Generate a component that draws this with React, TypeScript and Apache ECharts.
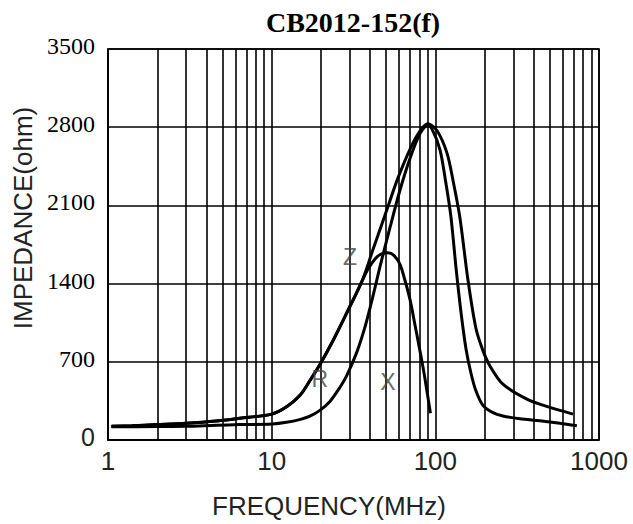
import React, { useEffect, useRef } from 'react';
import * as echarts from 'echarts';

const chartTitle = 'CB2012-152(f)';
const xName = 'FREQUENCY(MHz)';
const yName = 'IMPEDANCE(ohm)';
const yInterval = 700;
const yMax = 3500;
const minorGridFreqs = [2, 3, 4, 5, 6, 7, 8, 9, 20, 30, 40, 50, 60, 70, 80, 90, 200, 300, 400, 500, 600, 700, 800, 900];

// Z curve (MHz, ohm)
const zFreq = [1.05, 1.4, 2, 3, 4.6, 6.4, 10, 12.4, 14.9, 17.1, 19.8, 23.9, 28.6, 35.6, 41.5, 50.8, 58.9, 70.9, 81.5, 90, 102.3, 117.7, 128, 141.3, 158, 177, 195.4, 215.6, 258.8, 362.5, 501, 693];
const zImp = [124, 128, 138, 150, 170, 194, 232, 300, 400, 530, 680, 900, 1130, 1420, 1700, 2070, 2340, 2620, 2775, 2830, 2770, 2570, 2330, 1990, 1440, 1000, 800, 663, 500, 366, 292, 232];

// R curve (MHz, ohm)
const rFreq = [1.05, 2, 3, 4.6, 6.4, 10.1, 12.3, 15, 17, 19.7, 22.7, 26.1, 28.7, 33, 37.3, 41.3, 45.7, 52.8, 60.9, 70, 80.5, 90, 95, 106.7, 116, 124.5, 133.6, 143.3, 153.8, 165, 177, 195.4, 224.7, 258.8, 328.7, 435.5, 577, 732];
const rImp = [118, 120, 122, 132, 138, 143, 158, 185, 211, 265, 345, 470, 574, 780, 1020, 1270, 1540, 1900, 2240, 2520, 2740, 2815, 2790, 2600, 2300, 2000, 1550, 1150, 820, 600, 440, 310, 245, 215, 190, 172, 150, 128];

// X curve (MHz, ohm)
const xFreq = [1.05, 1.4, 2, 3, 4.6, 6.4, 10, 12.4, 14.9, 17.1, 19.8, 23.9, 28.6, 35.6, 38.8, 42.8, 46.6, 51.4, 56, 60.9, 65.2, 70.2, 75.1, 80.5, 86.2, 93.3];
const xImp = [124, 128, 138, 150, 170, 194, 232, 300, 400, 530, 680, 900, 1130, 1420, 1530, 1620, 1665, 1676, 1650, 1570, 1430, 1250, 1030, 800, 560, 240];

// curve name labels
const labelNames = ['Z', 'R', 'X'];
const labelFreq = [30.1, 19.7, 51.3];
const labelImp = [1634, 545, 518];

const pairs = (f: number[], v: number[]) => f.map((x, i) => [x, v[i]]);

export default function App() {
  const ref = useRef<HTMLDivElement>(null);
  useEffect(() => {
    if (!ref.current) return;
    const chart = echarts.init(ref.current, null, { renderer: 'svg' });
    const sans = 'Liberation Sans';
    const curveStyle = { color: '#000', width: 3 };
    const mkCurve = (name: string, f: number[], v: number[]) => ({
      type: 'line',
      name,
      data: pairs(f, v),
      smooth: 0.3,
      showSymbol: false,
      symbol: 'none',
      lineStyle: curveStyle,
      z: 5,
    });
    chart.setOption({
      animation: false,
      backgroundColor: '#fff',
      title: {
        text: chartTitle,
        left: 348,
        top: 3,
        textAlign: 'center',
        textStyle: { fontFamily: 'Liberation Serif', fontWeight: 'bold', fontSize: 28, color: '#000' },
      },
      grid: { left: 108, top: 49, width: 491, height: 392, show: true, borderColor: '#000', borderWidth: 1.6 },
      xAxis: {
        type: 'log',
        logBase: 10,
        min: 1,
        max: 1000,
        name: xName,
        nameLocation: 'middle',
        nameGap: 53,
        nameTextStyle: { fontFamily: sans, fontSize: 26, color: '#222', padding: [0, 49, 0, 0] },
        axisLine: { show: true, lineStyle: { color: '#000', width: 1.6 } },
        axisTick: { show: false },
        splitLine: { show: true, lineStyle: { color: '#000', width: 1.6 } },
        axisLabel: { fontFamily: sans, fontSize: 26, color: '#222', margin: 8, formatter: (v: number) => String(v) },
      },
      yAxis: {
        type: 'value',
        min: 0,
        max: yMax,
        interval: yInterval,
        name: yName,
        nameLocation: 'middle',
        nameGap: 72,
        nameTextStyle: { fontFamily: sans, fontSize: 26, color: '#222', padding: [0, 0, 0, 53] },
        axisLine: { show: true, lineStyle: { color: '#000', width: 1.6 } },
        axisTick: { show: false },
        splitLine: { show: true, lineStyle: { color: '#000', width: 1.6 } },
        axisLabel: {
          margin: 13,
          padding: [0, 0, 6, 0],
          formatter: (v: number) => (v === 0 ? '{s|0}' : '{n|' + v + '}'),
          rich: {
            n: { fontFamily: 'Liberation Serif', fontSize: 24, color: '#000' },
            s: { fontFamily: sans, fontSize: 25, color: '#222' },
          },
        },
      },
      series: [
        {
          type: 'line',
          name: 'grid',
          data: [],
          silent: true,
          z: 1,
          markLine: {
            silent: true,
            symbol: ['none', 'none'],
            label: { show: false },
            lineStyle: { color: '#000', width: 1.6, type: 'solid' },
            data: minorGridFreqs.map((f) => ({ xAxis: f })),
          },
        },
        mkCurve('Z', zFreq, zImp),
        mkCurve('R', rFreq, rImp),
        mkCurve('X', xFreq, xImp),
        {
          type: 'scatter',
          name: 'labels',
          data: labelNames.map((n, i) => [labelFreq[i], labelImp[i], n]),
          symbolSize: 1,
          itemStyle: { color: 'rgba(0,0,0,0)' },
          z: 6,
          label: {
            show: true,
            position: 'inside',
            formatter: (p: any) => p.data[2],
            fontFamily: sans,
            fontSize: 23,
            color: '#444',
          },
        },
      ],
    });
    return () => chart.dispose();
  }, []);
  return <div ref={ref} style={{ position: 'fixed', left: 0, top: 0, width: 633, height: 524 }} />;
}
